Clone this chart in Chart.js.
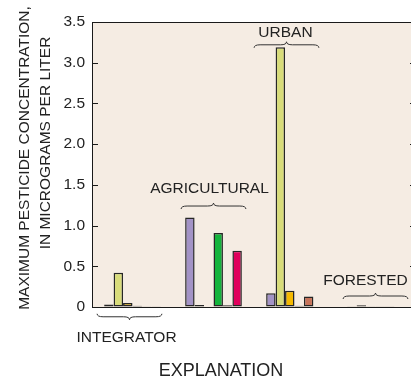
<!DOCTYPE html>
<html>
<head>
<meta charset="utf-8">
<script src="https://cdn.jsdelivr.net/npm/chart.js@4/dist/chart.umd.min.js"></script>
<style>
  body { margin: 0; overflow: hidden; background: #fff; }
  #wrap { position: absolute; left: 0; top: 0; width: 417px; height: 381px; }
</style>
</head>
<body>
<div id="wrap"><canvas id="chart"></canvas></div>
<script>
"use strict";

// land-use groups and the six bars drawn in each group
const groups = ["INTEGRATOR", "AGRICULTURAL", "URBAN", "FORESTED"];
const slot1 = [0.03, 1.10, 0.17, 0.01];
const slot2 = [0.42, 0.025, 3.19, 0.02];
const slot3 = [0.05, 0.005, 0.20, 0.01];
const slot4 = [0.015, 0.91, 0.015, 0.01];
const slot5 = [0.01, 0.02, 0.13, 0.01];
const slot6 = [0.01, 0.69, 0.005, 0.005];
const yTicks = [0, 0.5, 1.0, 1.5, 2.0, 2.5, 3.0, 3.5];

// bar colours, one row per group
const slotColors = [
  ["#a393c6", "#d8dc7a", "#f5b900", "#1e5a2c", "#4a4a3a", "#b8ae9c"],
  ["#a393c6", "#4a4a2a", "#1e5a2c", "#14b43c", "#b8ae9c", "#e0005c"],
  ["#a393c6", "#d8dc7a", "#f5b900", "#1e5a2c", "#c7735a", "#3a3a3a"],
  ["#a393c6", "#6a5a3a", "#8a8a7a", "#8a8a7a", "#8a8a7a", "#8a8a7a"]
];

const slots = [slot1, slot2, slot3, slot4, slot5, slot6];
const FONT = "'Liberation Sans', Arial, sans-serif";
const INK = "#222";

// group label placement: [text dx, text value, brace dx, brace value, brace points down]
const groupMarks = [
  { tdx: -6, ty: -0.375, bdx: -3, by: -0.12, down: true },
  { tdx: -4, ty: 1.455, bdx: 0, by: 1.24, down: false },
  { tdx: -9, ty: 3.37, bdx: -8, by: 3.22, down: false },
  { tdx: -10, ty: 0.32, bdx: 0, by: 0.135, down: false }
];

function brace(ctx, x1, x2, y0, down) {
  const d = down ? 1 : -1;
  const h = 3;
  const mid = (x1 + x2) / 2;
  ctx.beginPath();
  ctx.moveTo(x1, y0 - d * h);
  ctx.quadraticCurveTo(x1, y0, x1 + 2 * h, y0);
  ctx.lineTo(mid - 2 * h, y0);
  ctx.quadraticCurveTo(mid, y0, mid, y0 + d * h);
  ctx.quadraticCurveTo(mid, y0, mid + 2 * h, y0);
  ctx.lineTo(x2 - 2 * h, y0);
  ctx.quadraticCurveTo(x2, y0, x2, y0 - d * h);
  ctx.stroke();
}

const paperPlugin = {
  id: "paper",
  beforeDatasetsDraw(chart) {
    const { ctx, chartArea: a } = chart;
    ctx.save();
    ctx.fillStyle = "#f5ece3";
    ctx.fillRect(a.left, a.top, a.right - a.left, a.bottom - a.top);
    ctx.restore();
  },
  afterDraw(chart) {
    const { ctx, chartArea: a } = chart;
    const x = chart.scales.x;
    const y = chart.scales.y;
    ctx.save();
    ctx.strokeStyle = "#1a1a1a";
    ctx.lineWidth = 1;
    ctx.strokeRect(a.left + 0.5, a.top + 0.5, a.right - a.left - 1, a.bottom - a.top);
    // inward ticks on both sides
    ctx.beginPath();
    yTicks.forEach(v => {
      if (v === 0) return;
      const py = Math.round(y.getPixelForValue(v)) + 0.5;
      ctx.moveTo(a.left, py);
      ctx.lineTo(a.left + 6, py);
      ctx.moveTo(a.right, py);
      ctx.lineTo(a.right - 6, py);
    });
    ctx.stroke();

    // group names with braces
    ctx.fillStyle = INK;
    ctx.strokeStyle = "#333";
    ctx.textAlign = "center";
    ctx.textBaseline = "middle";
    ctx.font = "15.5px " + FONT;
    const half = (x.getPixelForValue(1) - x.getPixelForValue(0)) * 0.4;
    groups.forEach((g, i) => {
      const m = groupMarks[i];
      const cx = x.getPixelForValue(i);
      ctx.fillText(g, cx + m.tdx, y.getPixelForValue(m.ty));
      brace(ctx, cx + m.bdx - half, cx + m.bdx + half, y.getPixelForValue(m.by), m.down);
    });

    ctx.font = "18px " + FONT;
    ctx.fillText("EXPLANATION", 221, 371);

    // axis title, two rotated lines
    ctx.font = "15.5px " + FONT;
    ctx.translate(25, 158);
    ctx.rotate(-Math.PI / 2);
    ctx.fillText("MAXIMUM PESTICIDE CONCENTRATION,", 0, 0);
    ctx.fillText("IN MICROGRAMS PER LITER", 15, 21);
    ctx.restore();
  }
};

const datasets = slots.map((vals, i) => ({
  label: "bar " + (i + 1),
  data: vals,
  backgroundColor: groups.map((g, gi) => slotColors[gi][i]),
  borderColor: "#262626",
  borderWidth: 1.5,
  borderSkipped: false,
  categoryPercentage: 0.7,
  barPercentage: 1.0
}));

new Chart(document.getElementById("chart"), {
  type: "bar",
  data: { labels: groups, datasets: datasets },
  plugins: [paperPlugin],
  options: {
    responsive: true,
    maintainAspectRatio: false,
    animation: false,
    layout: { padding: { top: 22, right: 1, left: 0, bottom: 0 } },
    plugins: {
      legend: { display: false },
      tooltip: { enabled: false },
      title: { display: false }
    },
    scales: {
      x: {
        grid: { display: false },
        border: { display: false },
        ticks: { display: false },
        afterFit(s) { s.height = 74; }
      },
      y: {
        min: 0,
        max: 3.5,
        afterBuildTicks(s) { s.ticks = yTicks.map(v => ({ value: v })); },
        ticks: {
          padding: 7,
          color: INK,
          font: { family: FONT, size: 15.5 },
          callback: v => (v === 0 ? "0" : v.toFixed(1))
        },
        grid: { drawOnChartArea: false, drawTicks: false },
        border: { display: false },
        afterFit(s) { s.width = 92; }
      }
    }
  }
});
</script>
</body>
</html>
